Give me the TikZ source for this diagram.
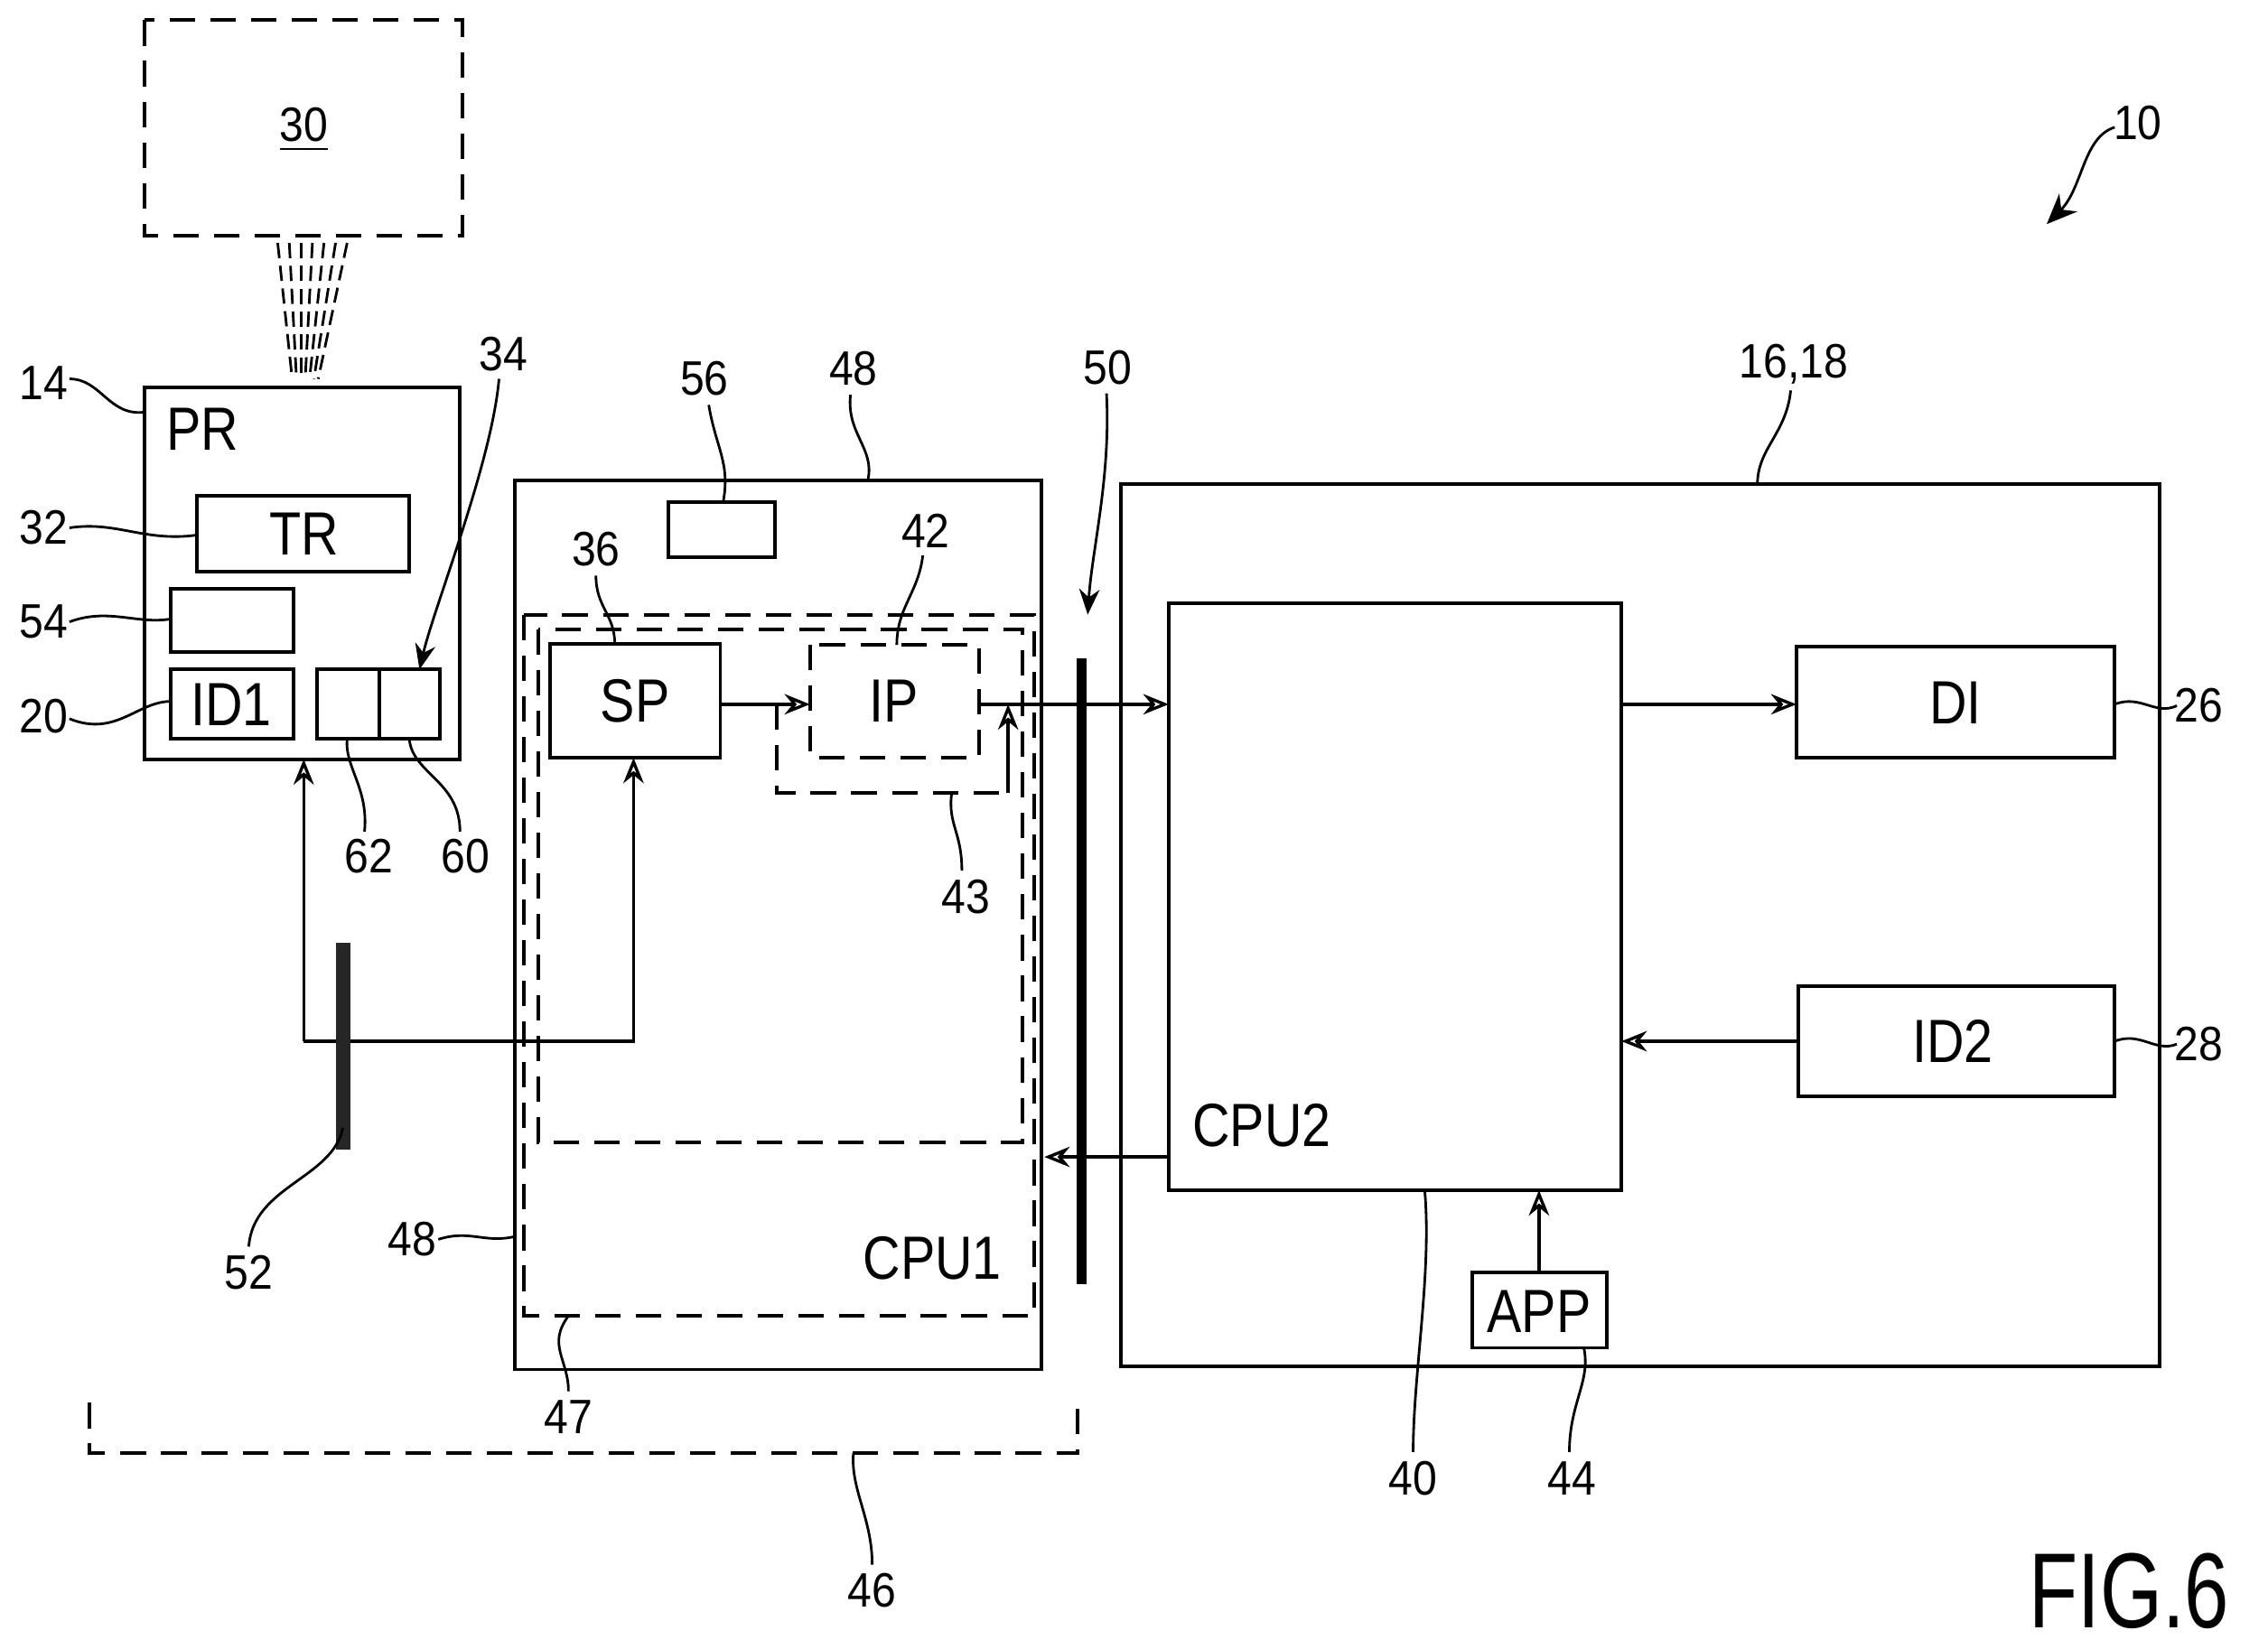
\documentclass[tikz,border=0pt]{standalone}
\usepackage{fontspec}
\setmainfont{Liberation Sans}
\usetikzlibrary{arrows.meta}
\begin{document}
\begin{tikzpicture}[x=0.01cm,y=-0.01cm,
    box/.style={draw,line width=0.7pt,inner sep=0pt},
    dbox/.style={draw,line width=0.7pt,dash pattern=on 5pt off 3pt},
    lead/.style={line width=0.5pt},
    sig/.style={line width=0.6pt,-{Stealth[length=5pt,width=4pt,open]}},
    num/.style={font=\fontsize{9.5}{9.5}\selectfont,xscale=0.9},
    txt/.style={font=\fontsize{12}{12}\selectfont,xscale=0.85}]
  \useasboundingbox (0,0) rectangle (1568,1140);
  % camera / object 30
  \draw[dbox] (100,14) rectangle (320,163);
  \node[num] (n30) at (210,90) {\underline{30}};
  \foreach \i in {0,...,6}
    \draw[lead,dash pattern=on 3pt off 1.5pt] (192+\i*8,168) -- (202+\i*3,262);
  % probe PR
  \draw[box] (100,268) rectangle (318,525);
  \node[txt] (pr) at (140,297) {PR};
  \draw[box] (136,343) rectangle (283,395);
  \node[txt] (tr) at (210,369) {TR};
  \draw[box] (118,407) rectangle (203,451);
  \draw[box] (118,463) rectangle (203,511);
  \node[txt] (id1) at (160,487) {ID1};
  \draw[box] (219,463) rectangle (304,511);
  \draw[line width=0.7pt] (262,463) -- (262,511);
  \node[num] (n14) at (30,265) {14};
  \draw[lead] (48,262) .. controls (70,262) and (75,288) .. (100,285);
  \node[num] (n32) at (30,365) {32};
  \draw[lead] (48,365) .. controls (80,360) and (100,375) .. (136,370);
  \node[num] (n54) at (30,430) {54};
  \draw[lead] (48,430) .. controls (75,420) and (95,432) .. (118,428);
  \node[num] (n20) at (30,495) {20};
  \draw[lead] (48,497) .. controls (80,510) and (95,485) .. (118,485);
  \node[num] (n34) at (348,245) {34};
  \draw[lead,-{Stealth[length=5pt,width=4pt]}] (345,262) .. controls (340,320) and (300,420) .. (290,463);
  \node[num] (n62) at (255,592) {62};
  \draw[lead] (252,575) .. controls (255,545) and (238,530) .. (240,511);
  \node[num] (n60) at (322,592) {60};
  \draw[lead] (318,575) .. controls (318,540) and (285,535) .. (283,511);
  % CPU1 unit 48
  \draw[box] (356,332) rectangle (720,947);
  \draw[box] (462,347) rectangle (536,385);
  \node[num] (n56) at (487,262) {56};
  \draw[lead] (490,280) .. controls (495,310) and (505,320) .. (500,347);
  \node[num] (n48a) at (590,255) {48};
  \draw[lead] (588,273) .. controls (585,300) and (605,310) .. (600,332);
  \node[num] (n48b) at (285,857) {48};
  \draw[lead] (303,857) .. controls (325,850) and (335,860) .. (356,855);
  \draw[dbox] (362,425) rectangle (715,910);
  \draw[dbox] (372,435) rectangle (707,790);
  \node[num] (n47) at (393,980) {47};
  \draw[lead] (393,962) .. controls (393,940) and (378,930) .. (393,910);
  \node[txt,anchor=east] (cpu1) at (703,870) {CPU1};
  \draw[box] (380,445) rectangle (498,524);
  \node[txt] (sp) at (439,485) {SP};
  \node[num] (n36) at (412,380) {36};
  \draw[lead] (412,398) .. controls (412,420) and (425,425) .. (425,445);
  \draw[dbox] (560,446) rectangle (677,524);
  \node[txt] (ip) at (618,485) {IP};
  \node[num] (n42) at (640,367) {42};
  \draw[lead] (638,384) .. controls (635,410) and (620,420) .. (620,446);
  \draw[dbox] (537,487) -- (537,548) -- (697,548) -- (697,500);
  \node[num] (n43) at (668,620) {43};
  \draw[lead] (665,602) .. controls (665,575) and (655,570) .. (658,548);
  \draw[sig] (498,487) -- (560,487);
  \draw[sig] (677,487) -- (808,487);
  \draw[sig] (697,548) -- (697,487);
  % bus 50
  \draw[line width=2pt] (748,455) -- (748,888);
  \node[num] (n50) at (766,254) {50};
  \draw[lead,-{Stealth[length=5pt,width=4pt]}] (765,272) .. controls (768,330) and (755,380) .. (752,425);
  \draw[sig] (808,800) -- (722,800);
  % main device 16,18
  \draw[box] (775,335) rectangle (1493,945);
  \node[num] (n16) at (1240,252) {16,18};
  \draw[lead] (1238,270) .. controls (1235,300) and (1215,310) .. (1215,335);
  \draw[box] (808,417) rectangle (1121,823);
  \node[txt,anchor=west] (cpu2) at (814,778) {CPU2};
  \node[num] (n40) at (977,1022) {40};
  \draw[lead] (977,1004) .. controls (977,950) and (990,880) .. (985,823);
  \draw[box] (1242,447) rectangle (1462,524);
  \node[txt] (di) at (1352,486) {DI};
  \draw[sig] (1121,487) -- (1242,487);
  \node[num] (n26) at (1520,488) {26};
  \draw[lead] (1462,487) .. controls (1480,480) and (1490,495) .. (1505,488);
  \draw[box] (1243,682) rectangle (1462,758);
  \node[txt] (id2) at (1350,720) {ID2};
  \draw[sig] (1243,720) -- (1121,720);
  \node[num] (n28) at (1520,722) {28};
  \draw[lead] (1462,720) .. controls (1480,713) and (1490,728) .. (1505,722);
  \draw[box] (1018,880) rectangle (1111,932);
  \node[txt] (app) at (1064,907) {APP};
  \draw[sig] (1064,880) -- (1064,823);
  \node[num] (n44) at (1087,1022) {44};
  \draw[lead] (1085,1004) .. controls (1085,970) and (1100,955) .. (1095,932);
  % link 52
  \draw[sig] (210,720) -- (210,525);
  \draw[sig] (210,720) -- (438,720) -- (438,524);
  \fill[black!85] (232,652) rectangle (242,795);
  \node[num] (n52) at (172,880) {52};
  \draw[lead] (172,862) .. controls (175,820) and (230,815) .. (237,780);
  % system 46
  \draw[dbox] (62,970) -- (62,1005) -- (745,1005) -- (745,965);
  \node[num] (n46) at (603,1100) {46};
  \draw[lead] (603,1082) .. controls (603,1050) and (588,1030) .. (590,1005);
  % system 10
  \node[num] (n10) at (1478,85) {10};
  \draw[lead,-{Stealth[length=6pt,width=5pt]}] (1462,88) .. controls (1440,95) and (1440,130) .. (1415,155);
  \node[font=\fontsize{21}{21}\selectfont,xscale=0.75] (fig) at (1472,1100) {FIG.6};
\end{tikzpicture}
\end{document}
